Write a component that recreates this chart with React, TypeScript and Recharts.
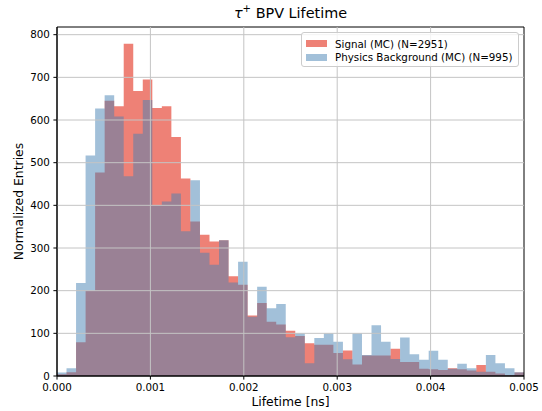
import React from "react";
import { Area, ComposedChart, Legend, ReferenceArea, ReferenceLine, XAxis, YAxis } from "recharts";

const FONT = "DejaVu Sans, sans-serif";

// 49 bins between 0 and 0.005 ns
const N_BINS = 49;
const X_MAX = 0.005;
const Y_MAX = 818;

const signalCounts = [
  4, 9, 79, 200, 477, 645, 632, 779, 668, 695, 628, 632, 560, 463, 362, 331, 315, 318, 234, 214,
  142, 171, 127, 121, 106, 94, 77, 73, 73, 54, 60, 27, 48, 48, 48, 64, 33, 33, 17, 16,
  14, 18, 16, 13, 26, 10, 6, 2, 8,
];

const backgroundCounts = [
  8, 18, 218, 517, 627, 658, 608, 468, 568, 647, 401, 409, 428, 339, 459, 289, 261, 318, 219, 268,
  139, 209, 159, 169, 91, 100, 30, 89, 100, 80, 39, 100, 49, 119, 80, 40, 90, 51, 38, 59,
  38, 17, 29, 18, 10, 49, 30, 18, 9,
];

const xTicks = [0, 0.001, 0.002, 0.003, 0.004, 0.005];
const yTicks = [0, 100, 200, 300, 400, 500, 600, 700, 800];

const series = [
  { key: "signal", label: "Signal (MC) (N=2951)", color: "#e74c3c", opacity: 0.7 },
  { key: "background", label: "Physics Background (MC) (N=995)", color: "#4682b4", opacity: 0.5 },
];

const binWidth = X_MAX / N_BINS;
// one point per bin edge; the last edge repeats the last bin so the step closes
const data = Array.from({ length: N_BINS + 1 }, (_, i) => {
  const b = Math.min(i, N_BINS - 1);
  return { edge: i * binWidth, signal: signalCounts[b], background: backgroundCounts[b] };
});

const tickStyle = { fontSize: 10.3, fill: "#000", fontFamily: FONT };
const GRID = "#c4c4c4";

function LegendBox() {
  return (
    <div
      style={{
        boxSizing: "border-box",
        width: 218,
        height: 35,
        padding: "4px 4px",
        border: "1px solid #cccccc",
        borderRadius: 3,
        background: "rgba(255,255,255,0.8)",
        fontFamily: FONT,
        fontSize: 10.3,
        color: "#000",
      }}
    >
      {series.map((s) => (
        <div key={s.key} style={{ display: "flex", alignItems: "center", height: 13.5 }}>
          <span
            style={{
              display: "inline-block",
              width: 21,
              height: 7,
              marginRight: 8,
              background: s.color,
              opacity: s.opacity,
            }}
          />
          <span style={{ whiteSpace: "nowrap" }}>{s.label}</span>
        </div>
      ))}
    </div>
  );
}

export default function App() {
  return (
    <div style={{ position: "absolute", left: 0, top: 0, width: 542, height: 411, background: "#fff", fontFamily: FONT }}>
      <div
        style={{
          position: "absolute",
          left: 57,
          width: 467,
          top: 3,
          textAlign: "center",
          fontSize: 14.4,
          color: "#000",
          whiteSpace: "nowrap",
        }}
      >
        <span style={{ fontStyle: "italic" }}>τ</span>
        <sup style={{ fontSize: "70%" }}>+</sup> BPV Lifetime
      </div>
      <ComposedChart width={542} height={411} data={data} margin={{ top: 27, right: 18, bottom: 0, left: 0 }}>
        <XAxis
          dataKey="edge"
          type="number"
          domain={[0, X_MAX]}
          ticks={xTicks}
          tickFormatter={(v: number) => v.toFixed(3)}
          tick={tickStyle}
          tickSize={3.6}
          tickMargin={3.6}
          height={35}
          stroke="#000"
          label={{ value: "Lifetime [ns]", position: "insideBottom", offset: 5, fontSize: 12.4, fill: "#000", fontFamily: FONT }}
        />
        <YAxis
          type="number"
          domain={[0, Y_MAX]}
          ticks={yTicks}
          tick={tickStyle}
          tickSize={3.6}
          tickMargin={3.6}
          width={57}
          stroke="#000"
          allowDataOverflow
          label={{ value: "Normalized Entries", angle: -90, position: "center", dx: -10, fontSize: 12.4, fill: "#000", fontFamily: FONT }}
        />
        {series.map((s) => (
          <Area
            key={s.key}
            type="stepAfter"
            dataKey={s.key}
            name={s.label}
            fill={s.color}
            fillOpacity={s.opacity}
            stroke="none"
            isAnimationActive={false}
            dot={false}
            activeDot={false}
          />
        ))}
        {/* grid sits above the histogram, as in matplotlib */}
        {xTicks.slice(1, -1).map((t) => (
          <ReferenceLine key={`gx${t}`} x={t} stroke={GRID} strokeWidth={1} />
        ))}
        {yTicks.slice(1).map((t) => (
          <ReferenceLine key={`gy${t}`} y={t} stroke={GRID} strokeWidth={1} />
        ))}
        <ReferenceArea x1={0} x2={X_MAX} y1={0} y2={Y_MAX} fill="none" stroke="#000" strokeWidth={1} ifOverflow="visible" />
        <Legend
          verticalAlign="middle"
          align="center"
          layout="horizontal"
          wrapperStyle={{ top: 32, left: 301, width: 218, height: 35 }}
          content={() => <LegendBox />}
        />
      </ComposedChart>
    </div>
  );
}
